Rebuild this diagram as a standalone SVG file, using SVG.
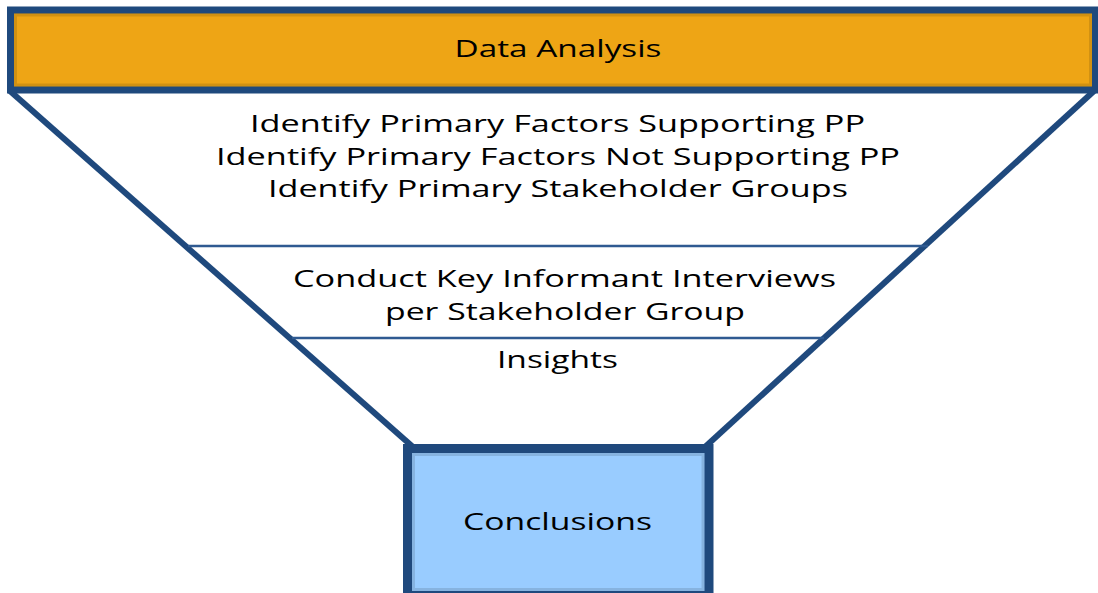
<svg xmlns="http://www.w3.org/2000/svg" width="1098" height="593" viewBox="0 0 1098 593">
<style>
.lbl{font-family:"Open Sans","Liberation Sans",sans-serif;font-size:24px;fill:#000;text-anchor:middle}
.frame{stroke:#1f497d;stroke-width:7}
.funnel{stroke:#1f497d;stroke-width:6;fill:none}
.div{stroke:#2f5a91;stroke-width:2.5}
.inner{fill:none;stroke:#000;stroke-opacity:0.12;stroke-width:3}
</style>
<rect width="1098" height="593" fill="#ffffff"/>
<g id="connectors">
<line class="funnel" x1="10" y1="91" x2="413" y2="447"/>
<line class="funnel" x1="1094" y1="91" x2="705" y2="447"/>
<line class="div" x1="188" y1="246" x2="928" y2="246"/>
<line class="div" x1="292" y1="338" x2="824" y2="338"/>
</g>
<g id="data-analysis">
<rect class="frame" x="10.5" y="10" width="1085" height="80" fill="#eea515"/>
<rect class="inner" x="15.5" y="15" width="1075" height="70"/>
<text class="lbl" x="558" y="57" textLength="207" lengthAdjust="spacingAndGlyphs">Data Analysis</text>
</g>
<g id="identify-factors">
<text class="lbl" x="557.5" y="132" textLength="615" lengthAdjust="spacingAndGlyphs">Identify Primary Factors Supporting PP</text>
<text class="lbl" x="558" y="165" textLength="684" lengthAdjust="spacingAndGlyphs">Identify Primary Factors Not Supporting PP</text>
<text class="lbl" x="558" y="197" textLength="580" lengthAdjust="spacingAndGlyphs">Identify Primary Stakeholder Groups</text>
</g>
<g id="interviews">
<text class="lbl" x="564.5" y="287" textLength="543" lengthAdjust="spacingAndGlyphs">Conduct Key Informant Interviews</text>
<text class="lbl" x="565" y="320" textLength="360" lengthAdjust="spacingAndGlyphs">per Stakeholder Group</text>
</g>
<g id="insights">
<text class="lbl" x="557.5" y="368" textLength="121" lengthAdjust="spacingAndGlyphs">Insights</text>
</g>
<g id="conclusions">
<rect x="407.5" y="448.5" width="301.5" height="147" fill="#99ccff" stroke="#1f497d" stroke-width="9"/>
<rect class="inner" x="413.5" y="454.5" width="289.5" height="135"/>
<text class="lbl" x="557.5" y="530" textLength="189" lengthAdjust="spacingAndGlyphs">Conclusions</text>
</g>
</svg>
